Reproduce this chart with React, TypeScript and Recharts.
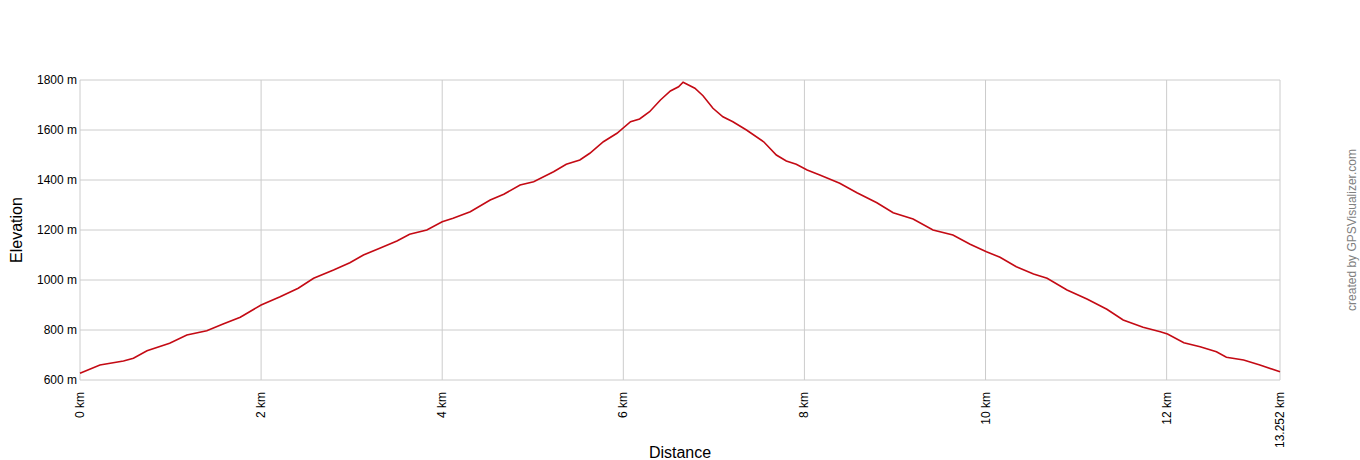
import React from 'react';
import { LineChart, Line, XAxis, YAxis, CartesianGrid } from 'recharts';

// Elevation profile
const distanceKm: number[] = [
  0, 0.22, 0.48, 0.59, 0.74, 0.99, 1.18, 1.4, 1.58, 1.77, 2.0, 2.21, 2.41, 2.58, 2.8, 2.98,
  3.13, 3.31, 3.5, 3.64, 3.83, 4.0, 4.12, 4.31, 4.53, 4.68, 4.86, 5.01, 5.23, 5.37, 5.52,
  5.63, 5.78, 5.93, 6.08, 6.18, 6.29, 6.41, 6.52, 6.61, 6.66, 6.79, 6.88, 6.99, 7.1, 7.21,
  7.36, 7.55, 7.69, 7.8, 7.91, 8.03, 8.17, 8.39, 8.58, 8.8, 8.98, 9.2, 9.42, 9.64, 9.83,
  10.01, 10.16, 10.34, 10.53, 10.68, 10.9, 11.12, 11.34, 11.52, 11.74, 11.93, 12.01, 12.19,
  12.37, 12.55, 12.66, 12.85, 13.03, 13.252,
];

const elevationM: number[] = [
  627, 660, 676, 687, 717, 747, 780, 797, 824, 851, 900, 933, 967, 1007, 1040, 1069,
  1100, 1127, 1156, 1183, 1200, 1233, 1247, 1273, 1320, 1343, 1380, 1393, 1433, 1463, 1480,
  1507, 1553, 1587, 1633, 1644, 1673, 1720, 1756, 1773, 1791, 1767, 1737, 1687, 1653, 1633,
  1600, 1553, 1500, 1476, 1463, 1440, 1420, 1387, 1349, 1309, 1269, 1244, 1200, 1180, 1143,
  1113, 1091, 1053, 1024, 1007, 960, 924, 883, 840, 811, 793, 784, 749,
  733, 713, 691, 680, 660, 633,
];

const xTicks: number[] = [0, 2, 4, 6, 8, 10, 12, 13.252];
const yTicks: number[] = [600, 800, 1000, 1200, 1400, 1600, 1800];

const profile = distanceKm.map((d, i) => ({ km: d, ele: elevationM[i] }));

const FONT = '"Liberation Sans", Arial, sans-serif';

const XTick = (props: any) => {
  const { x, y, payload } = props;
  return (
    <text
      x={x + 4}
      y={y + 4}
      transform={`rotate(-90, ${x + 4}, ${y + 4})`}
      textAnchor="end"
      fontSize={12}
      fontFamily={FONT}
      fill="#000"
    >
      {payload.value} km
    </text>
  );
};

const YTick = (props: any) => {
  const { x, y, payload } = props;
  return (
    <text x={x + 5} y={y + 4} textAnchor="end" fontSize={12} fontFamily={FONT} fill="#000">
      {payload.value} m
    </text>
  );
};

const ElevationLabel = (props: any) => {
  const { viewBox } = props;
  const cx = viewBox.x + 22;
  const cy = viewBox.y + viewBox.height / 2;
  return (
    <text
      x={cx}
      y={cy}
      transform={`rotate(-90, ${cx}, ${cy})`}
      textAnchor="middle"
      fontSize={16}
      fontFamily={FONT}
      fill="#000"
    >
      Elevation
    </text>
  );
};

const App: React.FC = () => {
  return (
    <div style={{ position: 'absolute', left: 0, top: 0, width: 1360, height: 460, background: '#fff' }}>
      <LineChart
        width={1360}
        height={460}
        data={profile}
        margin={{ top: 80, right: 80, bottom: 0, left: 0 }}
      >
        <CartesianGrid stroke="#cccccc" strokeWidth={1} verticalValues={xTicks} horizontalValues={yTicks} />
        <XAxis
          dataKey="km"
          type="number"
          domain={[0, 13.252]}
          ticks={xTicks}
          height={80}
          axisLine={false}
          tickLine={false}
          tick={<XTick />}
          interval={0}
          label={{ value: 'Distance', position: 'insideBottom', offset: 2, fontSize: 16, fill: '#000', fontFamily: FONT }}
        />
        <YAxis
          type="number"
          domain={[600, 1800]}
          ticks={yTicks}
          width={80}
          axisLine={false}
          tickLine={false}
          tick={<YTick />}
          interval={0}
          label={<ElevationLabel />}
        />
        <Line
          type="linear"
          dataKey="ele"
          stroke="#c40a14"
          strokeWidth={1.6}
          dot={false}
          isAnimationActive={false}
        />
      </LineChart>
      <div
        style={{
          position: 'absolute',
          left: 1352,
          top: 230,
          transform: 'translate(-50%, -50%) rotate(-90deg)',
          whiteSpace: 'nowrap',
          fontFamily: FONT,
          fontSize: 12,
          color: '#808080',
        }}
      >
        created by GPSVisualizer.com
      </div>
    </div>
  );
};

export default App;
